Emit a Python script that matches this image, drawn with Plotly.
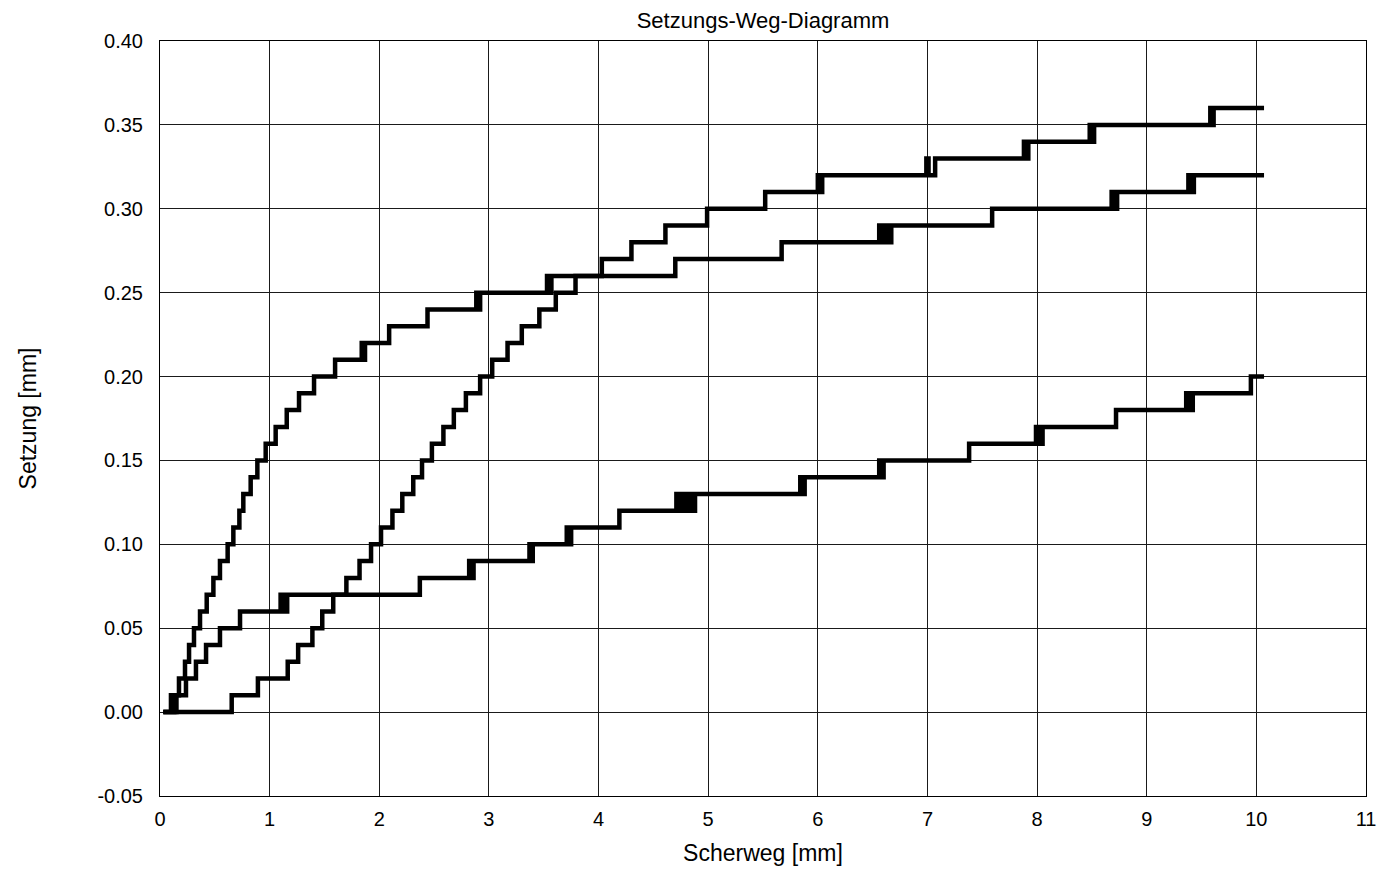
import plotly.graph_objects as go

# Settlement curves of three shear tests: horizontal shear path [mm] vs. settlement [mm].
# Readings are quantised to 0.01 mm, so each curve is drawn as a step line.
# Short back-and-forth entries reproduce the flicker between two adjacent readings.

curve1_x = [0.03, 0.10, 0.115, 0.13, 0.173, 0.228, 0.265, 0.31, 0.365, 0.426, 0.487, 0.547,
            0.617, 0.669, 0.724, 0.76, 0.827, 0.888, 0.964, 1.055, 1.156, 1.268, 1.405, 1.597,
            1.84, 1.855, 1.87, 2.09, 2.44, 2.885, 2.90, 2.92, 3.53, 3.55, 3.57, 4.03, 4.30,
            4.61, 4.99, 5.52, 6.00, 6.02, 6.04, 6.99, 7.01, 7.07, 7.88, 7.90, 7.92, 8.48,
            8.50, 8.52, 9.58, 9.60, 9.61, 10.07]
curve1_y = [0.00, 0.01, 0.00, 0.01, 0.02, 0.03, 0.04, 0.05, 0.06, 0.07, 0.08, 0.09,
            0.10, 0.11, 0.12, 0.13, 0.14, 0.15, 0.16, 0.17, 0.18, 0.19, 0.20, 0.21,
            0.22, 0.21, 0.22, 0.23, 0.24, 0.25, 0.24, 0.25, 0.26, 0.25, 0.26, 0.27, 0.28,
            0.29, 0.30, 0.31, 0.32, 0.31, 0.32, 0.33, 0.32, 0.33, 0.34, 0.33, 0.34, 0.35,
            0.34, 0.35, 0.36, 0.35, 0.36, 0.36]

curve2_x = [0.03, 0.12, 0.135, 0.15, 0.237, 0.328, 0.42, 0.547, 0.73, 1.10, 1.12, 1.135,
            1.145, 1.16, 2.37, 2.82, 2.84, 2.86, 3.37, 3.39, 3.40, 3.71, 3.73, 3.75, 4.19,
            4.71, 4.74, 4.76, 4.79, 4.82, 4.85, 4.88, 5.84, 5.86, 5.88, 6.56, 6.58, 6.60,
            7.38, 7.99, 8.02, 8.05, 8.72, 9.36, 9.39, 9.42, 9.95, 10.07]
curve2_y = [0.00, 0.01, 0.00, 0.01, 0.02, 0.03, 0.04, 0.05, 0.06, 0.07, 0.06, 0.07,
            0.06, 0.07, 0.08, 0.09, 0.08, 0.09, 0.10, 0.09, 0.10, 0.11, 0.10, 0.11, 0.12,
            0.13, 0.12, 0.13, 0.12, 0.13, 0.12, 0.13, 0.14, 0.13, 0.14, 0.15, 0.14, 0.15,
            0.16, 0.17, 0.16, 0.17, 0.18, 0.19, 0.18, 0.19, 0.20, 0.20]

curve3_x = [0.03, 0.654, 0.893, 1.165, 1.26, 1.39, 1.48, 1.58, 1.70, 1.82, 1.925, 2.016,
            2.12, 2.21, 2.31, 2.39, 2.48, 2.585, 2.68, 2.79, 2.92, 3.03, 3.17, 3.30, 3.46,
            3.61, 3.79, 4.70, 5.67, 6.56, 6.59, 6.62, 6.65, 6.67, 7.59, 8.68, 8.70, 8.73,
            9.38, 9.40, 9.43, 10.07]
curve3_y = [0.00, 0.01, 0.02, 0.03, 0.04, 0.05, 0.06, 0.07, 0.08, 0.09, 0.10, 0.11,
            0.12, 0.13, 0.14, 0.15, 0.16, 0.17, 0.18, 0.19, 0.20, 0.21, 0.22, 0.23, 0.24,
            0.25, 0.26, 0.27, 0.28, 0.29, 0.28, 0.29, 0.28, 0.29, 0.30, 0.31, 0.30, 0.31,
            0.32, 0.31, 0.32, 0.32]

x_ticks = list(range(0, 12))
y_ticks = [-0.05, 0.00, 0.05, 0.10, 0.15, 0.20, 0.25, 0.30, 0.35, 0.40]

FONT = "Arial, 'Liberation Sans', sans-serif"

fig = go.Figure()
for xs, ys in [(curve1_x, curve1_y), (curve2_x, curve2_y), (curve3_x, curve3_y)]:
    fig.add_trace(go.Scatter(
        x=xs, y=ys, mode="lines", line=dict(color="black", width=4.5, shape="hv"),
        showlegend=False, hoverinfo="x+y",
    ))

axis_common = dict(
    showgrid=True, gridcolor="#1a1a1a", gridwidth=1,
    showline=True, linecolor="black", linewidth=1, mirror=True,
    zeroline=False, ticks="", tickfont=dict(family=FONT, size=20, color="black"),
)

fig.update_layout(
    width=1382, height=875,
    margin=dict(l=160, r=16, t=41, b=79, autoexpand=False),
    paper_bgcolor="white", plot_bgcolor="white",
    font=dict(family=FONT, color="black"),
    title=dict(text="Setzungs-Weg-Diagramm", x=0.5, xref="paper", xanchor="center",
               y=1 - 20 / 875, yref="container", yanchor="middle",
               font=dict(family=FONT, size=22, color="black")),
    xaxis=dict(range=[0, 11], tickvals=x_ticks, ticktext=[str(v) for v in x_ticks],
               ticklabelstandoff=5,
               title=dict(text="Scherweg [mm]", standoff=15,
                          font=dict(family=FONT, size=23, color="black")),
               **axis_common),
    yaxis=dict(range=[-0.05, 0.40], tickvals=y_ticks,
               ticktext=[f"{v:.2f}" for v in y_ticks], ticklabelstandoff=12,
               title=dict(text="Setzung [mm]", standoff=54,
                          font=dict(family=FONT, size=23, color="black")),
               **axis_common),
)

fig.write_html("out.html")
